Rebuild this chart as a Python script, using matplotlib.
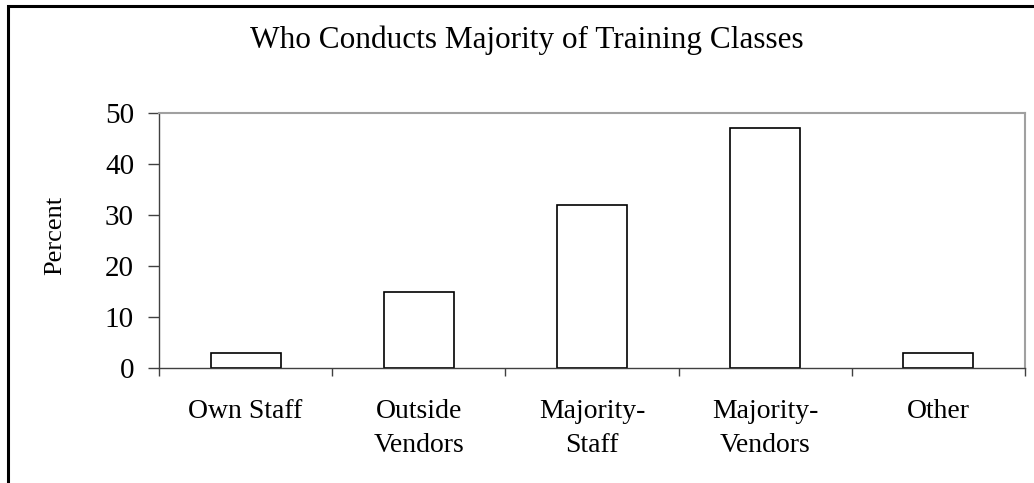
import matplotlib.pyplot as plt
from matplotlib.patches import Rectangle

categories = ["Own Staff", "Outside\nVendors", "Majority-\nStaff", "Majority-\nVendors", "Other"]
percent = [3, 15, 32, 47, 3]
y_ticks = [0, 10, 20, 30, 40, 50]

plt.rcParams['font.family'] = ['Liberation Serif', 'DejaVu Serif']

fig = plt.figure(figsize=(10.34, 4.83), dpi=100)
ax = fig.add_axes([159 / 1034, 1 - 368 / 483, (1025 - 159) / 1034, (368 - 113) / 483])

# outer chart frame (only left and top edges visible)
fig.patches.append(Rectangle((7.5 / 1034, -0.1), 1.2, 1 - 6 / 483 + 0.1,
                             transform=fig.transFigure, fill=False,
                             edgecolor='black', linewidth=2.2))

x = range(len(categories))
ax.bar(x, percent, width=0.405, color='white', edgecolor='black', linewidth=1.2)

ax.set_xlim(-0.5, len(categories) - 0.5)
ax.set_ylim(0, 50)
ax.set_yticks(y_ticks)
ax.tick_params(axis='y', direction='out', length=8, width=1, color='#404040',
               labelsize=21, pad=10)

ax.set_xticks(list(x))
ax.set_xticklabels(categories, fontsize=20, linespacing=1.5)
ax.tick_params(axis='x', length=0, pad=22)
ax.set_xticks([i + 0.5 for i in range(-1, len(categories))], minor=True)
ax.tick_params(axis='x', which='minor', direction='out', length=6, width=1, color='#404040')

for s in ['top', 'right']:
    ax.spines[s].set_color('#a0a0a0')
    ax.spines[s].set_linewidth(1.5)
for s in ['left', 'bottom']:
    ax.spines[s].set_color('#404040')
    ax.spines[s].set_linewidth(1)

ax.set_ylabel("Percent", fontsize=19)
ax.yaxis.set_label_coords(-0.107, 0.52)

fig.text(527 / 1034, 1 - 48 / 483, "Who Conducts Majority of Training Classes",
         fontsize=22.5, ha='center', va='baseline')

fig.savefig("out.png", dpi=100)
